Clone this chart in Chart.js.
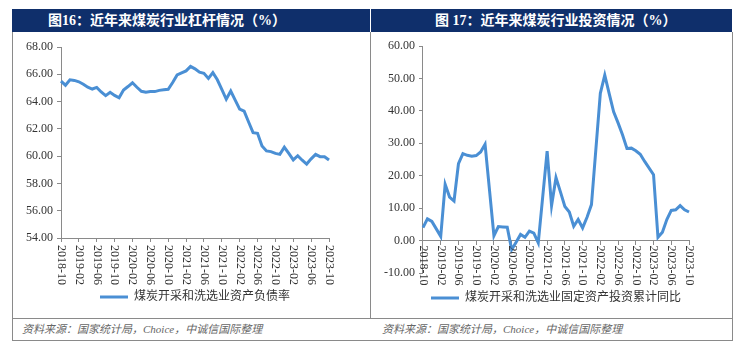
<!DOCTYPE html>
<html>
<head>
<meta charset="utf-8">
<script src="https://cdn.jsdelivr.net/npm/chart.js@4.4.0/dist/chart.umd.min.js"></script>
<style>
  body { margin: 0; width: 740px; height: 350px; background: #fff; position: relative; overflow: hidden;
         font-family: "Liberation Serif", "Noto Sans CJK SC", serif; }
  .head { position: absolute; top: 9px; height: 23px; background: #0f2f6b; color: #fff;
          font-size: 14px; font-weight: bold; line-height: 23px; white-space: nowrap; }
  .frame { position: absolute; left: 12px; top: 32px; width: 721px; height: 309px;
           border: 1px solid #8a8a8a; border-top: none; box-sizing: border-box; }
  .vline { position: absolute; left: 370px; top: 32px; width: 1px; height: 286px; background: #8a8a8a; z-index: 2; }
  .hline { position: absolute; left: 12px; top: 318px; width: 721px; height: 1px; background: #8a8a8a; z-index: 2; }
  .src { position: absolute; top: 321px; font-size: 11px; font-style: italic; color: #666; line-height: 16px; white-space: nowrap; }
  .box { position: absolute; top: 33px; z-index: 1; }
</style>
</head>
<body>
<div class="head" style="left:12px;width:358px;"><span style="margin-left:36px;">图16：近年来煤炭行业杠杆情况（%）</span></div>
<div class="head" style="left:371px;width:361px;"><span style="margin-left:64px;">图 17：近年来煤炭行业投资情况（%）</span></div>
<div class="frame"></div>
<div class="vline"></div>
<div class="hline"></div>
<div class="box" style="left:13px;width:357px;height:284px;"><canvas id="debtChart"></canvas></div>
<div class="box" style="left:371px;width:361px;height:292px;"><canvas id="investChart"></canvas></div>
<div class="src" style="left:22px;">资料来源：国家统计局，Choice，中诚信国际整理</div>
<div class="src" style="left:382px;">资料来源：国家统计局，Choice，中诚信国际整理</div>

<script>
// months 2018-10 .. 2023-10
const months = [
  '2018-10','2018-11','2018-12',
  '2019-01','2019-02','2019-03','2019-04','2019-05','2019-06','2019-07','2019-08','2019-09','2019-10','2019-11','2019-12',
  '2020-01','2020-02','2020-03','2020-04','2020-05','2020-06','2020-07','2020-08','2020-09','2020-10','2020-11','2020-12',
  '2021-01','2021-02','2021-03','2021-04','2021-05','2021-06','2021-07','2021-08','2021-09','2021-10','2021-11','2021-12',
  '2022-01','2022-02','2022-03','2022-04','2022-05','2022-06','2022-07','2022-08','2022-09','2022-10','2022-11','2022-12',
  '2023-01','2023-02','2023-03','2023-04','2023-05','2023-06','2023-07','2023-08','2023-09','2023-10'
];
const tickLabels = ['2018-10','2019-02','2019-06','2019-10','2020-02','2020-06','2020-10','2021-02',
  '2021-06','2021-10','2022-02','2022-06','2022-10','2023-02','2023-06','2023-10'];

// 煤炭开采和洗选业资产负债率
const debtRatio = [
  65.5, 65.2, 65.6,
  65.55, 65.45, 65.27, 65.05, 64.92, 65.04, 64.7, 64.43, 64.68, 64.45, 64.28, 64.85,
  65.1, 65.38, 65.05, 64.75, 64.68, 64.73, 64.73, 64.82, 64.86, 64.9, 65.4, 65.95,
  66.1, 66.25, 66.58, 66.4, 66.15, 66.07, 65.7, 66.12, 65.6, 64.9, 64.17, 64.77,
  64.1, 63.45, 63.3, 62.5, 61.72, 61.67, 60.75, 60.38, 60.33, 60.2, 60.13, 60.65,
  60.2, 59.72, 60.03, 59.7, 59.42, 59.8, 60.13, 59.96, 59.96, 59.72
];
// 煤炭开采和洗选业固定资产投资累计同比 (no January figures)
const investYoY = [
  4.0, 6.7, 5.9,
  null, 1.3, 17.3, 13.4, 12.2, 23.7, 26.8, 26.3, 26.0, 26.2, 27.3, 29.7,
  null, 1.5, 4.3, 4.2, 4.1, -2.8, -0.5, 1.9, 1.0, 2.9, 2.3, -0.7,
  null, 27.6, 10.8, 19.4, 15.0, 10.5, 8.8, 4.4, 6.5, 3.9, 7.2, 11.1,
  null, 45.4, 51.0, 45.3, 39.7, 36.3, 32.6, 28.4, 28.5, 27.7, 26.6, 24.4,
  null, 20.3, 1.0, 2.6, 6.5, 9.3, 9.5, 10.8, 9.5, 8.8
];

const lineColor = '#4a8fd4';
const axisColor = '#8a8a8a';
const textColor = '#333';
const tickFont = { family: '"Liberation Serif"', size: 12 };

// x labels read top-to-bottom, drawn on the scale's own tick positions
function vTickLabels(baseY, gap) {
  return {
    id: 'vTickLabels',
    afterDraw(chart) {
      const xs = chart.scales.x;
      const ctx = chart.ctx;
      const y0 = baseY(chart) + gap;
      ctx.save();
      ctx.font = '12px "Liberation Serif"';
      ctx.fillStyle = textColor;
      ctx.textAlign = 'left';
      ctx.textBaseline = 'middle';
      xs.ticks.forEach((t, i) => {
        ctx.save();
        ctx.translate(xs.getPixelForTick(i), y0);
        ctx.rotate(Math.PI / 2);
        ctx.fillText(xs.getLabelForValue(t.value), 0, 0);
        ctx.restore();
      });
      ctx.restore();
    }
  };
}

function keepTickLabels(scale) {
  scale.ticks = scale.ticks.filter(t => tickLabels.includes(months[t.value]));
}

function legendOpts(pad) {
  return {
    position: 'bottom',
    fullSize: false,
    labels: {
      color: textColor,
      font: { family: '"Liberation Serif", "Noto Sans CJK SC"', size: 12 },
      usePointStyle: true,
      pointStyle: 'line',
      pointStyleWidth: 28,
      padding: pad
    }
  };
}

function yAxis(min, max, step) {
  return {
    min: min, max: max,
    border: { color: axisColor },
    grid: { drawOnChartArea: false, drawTicks: true, tickLength: 4, color: axisColor },
    ticks: { stepSize: step, padding: 4, color: textColor, font: tickFont,
             callback: v => v.toFixed(2) }
  };
}

new Chart(document.getElementById('debtChart'), {
  type: 'line',
  data: {
    labels: months,
    datasets: [{
      label: '煤炭开采和洗选业资产负债率',
      data: debtRatio,
      borderColor: lineColor,
      backgroundColor: lineColor,
      borderWidth: 3,
      pointRadius: 0,
      tension: 0
    }]
  },
  options: {
    responsive: true,
    maintainAspectRatio: false,
    animation: false,
    layout: { padding: { left: 9, right: 41, top: 14, bottom: 4 } },
    plugins: { legend: legendOpts(10), tooltip: { enabled: false } },
    scales: {
      x: {
        offset: false,
        border: { color: axisColor },
        grid: { drawOnChartArea: false, drawTicks: true, tickLength: 4, color: axisColor },
        ticks: { display: false, autoSkip: false },
        afterBuildTicks: keepTickLabels,
        afterFit: s => { s.height = 43; }
      },
      y: yAxis(54, 68, 2)
    }
  },
  plugins: [vTickLabels(c => c.chartArea.bottom, 7)]
});

new Chart(document.getElementById('investChart'), {
  type: 'line',
  data: {
    labels: months,
    datasets: [{
      label: '煤炭开采和洗选业固定资产投资累计同比',
      data: investYoY,
      borderColor: lineColor,
      backgroundColor: lineColor,
      borderWidth: 3,
      pointRadius: 0,
      tension: 0,
      spanGaps: true
    }]
  },
  options: {
    responsive: true,
    maintainAspectRatio: false,
    animation: false,
    layout: { padding: { left: 9, right: 43, top: 13, bottom: 11 } },
    plugins: { legend: legendOpts(19), tooltip: { enabled: false } },
    scales: {
      x: {
        position: { y: 0 },
        offset: false,
        border: { color: axisColor },
        grid: { drawOnChartArea: false, drawTicks: true, tickLength: 4, color: axisColor },
        ticks: { display: false, autoSkip: false },
        afterBuildTicks: keepTickLabels
      },
      y: yAxis(-10, 60, 10)
    }
  },
  plugins: [vTickLabels(c => c.scales.y.getPixelForValue(0), 5)]
});
</script>
</body>
</html>
